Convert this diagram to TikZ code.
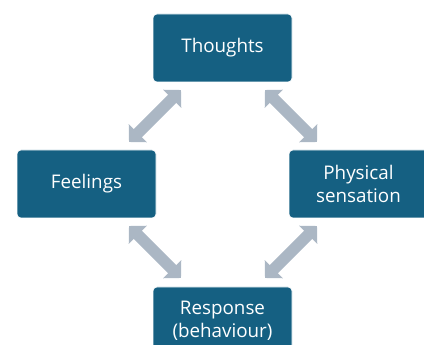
\documentclass[tikz,border=0pt]{standalone}
\usepackage{fontspec}
\setmainfont{Open Sans}
\usetikzlibrary{arrows.meta}
\definecolor{boxblue}{HTML}{156082}
\definecolor{arrowgray}{HTML}{ABB7C4}
\begin{document}
\begin{tikzpicture}[x=1pt,y=-1pt,
  stepbox/.style={fill=boxblue, draw=white, line width=0.6pt, rounded corners=4pt,
    minimum width=139pt, minimum height=68pt, text=white,
    font=\fontsize{18.8}{22.5}\selectfont, align=center, inner sep=0pt},
  link/.style={arrowgray, line width=11.5pt,
    {Triangle[width=25pt,length=12.5pt]}-{Triangle[width=25pt,length=12.5pt]}}]
\useasboundingbox (0,0) rectangle (424,345);
\clip (0,0) rectangle (424,345);

% the four stages of the cycle
\node[stepbox] (thoughts) at (222.5,48)  {Thoughts};
\node[stepbox] (feelings) at (86.5,184)  {Feelings};
\node[stepbox] (physical) at (358.5,184) {Physical\\sensation};
\node[stepbox] (response) at (222.5,321) {Response\\(behaviour)};

% arrow end points in the gaps between the boxes
\coordinate (tl-a) at (129,142);
\coordinate (tl-b) at (181,90);
\coordinate (tr-a) at (265,90);
\coordinate (tr-b) at (317,142);
\coordinate (bl-a) at (129,226);
\coordinate (bl-b) at (181,278);
\coordinate (br-a) at (317,226);
\coordinate (br-b) at (265,278);

% two-way links
\draw[link] (tl-a) -- (tl-b);
\draw[link] (tr-a) -- (tr-b);
\draw[link] (bl-a) -- (bl-b);
\draw[link] (br-a) -- (br-b);
\end{tikzpicture}
\end{document}
